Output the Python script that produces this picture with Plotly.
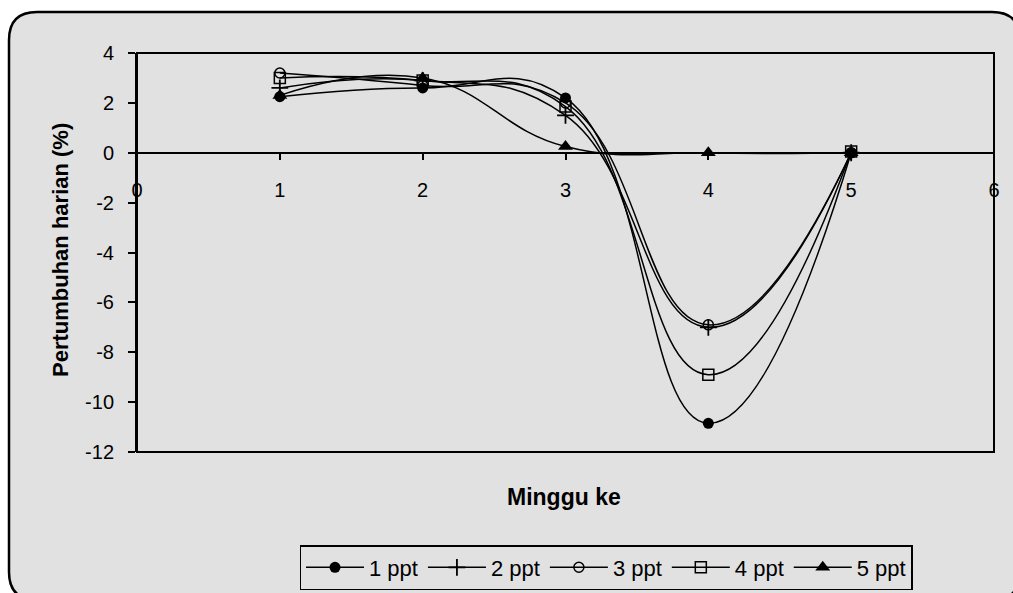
import plotly.graph_objects as go

# ---- data ----
weeks = [1, 2, 3, 4, 5]
series_names = ["1 ppt", "2 ppt", "3 ppt", "4 ppt", "5 ppt"]
ppt1 = [2.25, 2.6, 2.2, -10.85, 0.0]
ppt2 = [2.6, 2.9, 1.5, -7.0, 0.0]
ppt3 = [3.2, 2.7, 2.0, -6.9, 0.0]
ppt4 = [3.0, 2.9, 1.85, -8.9, 0.05]
ppt5 = [2.3, 3.0, 0.25, 0.0, 0.0]
y_tickvals = [4, 2, 0, -2, -4, -6, -8, -10, -12]
y_ticktext = ["4", "2", "0", "-2", "-4", "-6", "-8", "-10", "-12"]
x_tickvals = [0, 1, 2, 3, 4, 5, 6]
x_ticktext = ["0", "1", "2", "3", "4", "5", "6"]

# ---- geometry (pixels) ----
FW, FH = 1013, 593
L, R, T, B = 137, 994, 53, 452
W, H = R - L, B - T
GRAY = "#e1e1e1"
FONT = "Liberation Sans, Arial, sans-serif"


def px(X):
    return (X - L) / W


def py(Y):
    return (B - Y) / H


fig = go.Figure()

styles = [
    dict(symbol="circle", size=11, color="black", line=dict(width=0)),
    dict(symbol="cross-thin", size=12, color="black", line=dict(width=1.8, color="black")),
    dict(symbol="circle-open", size=10, color="black", line=dict(width=1.5, color="black")),
    dict(symbol="square-open", size=11, color="black", line=dict(width=1.5, color="black")),
    dict(symbol="triangle-up", size=13, color="black", line=dict(width=0)),
]
for name, ys, mk in zip(series_names, [ppt1, ppt2, ppt3, ppt4, ppt5], styles):
    fig.add_trace(go.Scatter(
        x=weeks, y=ys, name=name, mode="lines+markers",
        line=dict(color="black", width=1.5, shape="spline", smoothing=1.3),
        marker=mk,
    ))

# rounded background panel
X0, Y0, X1, Y1, rr = 9, 12, 1020, 600, 28
path = (
    f"M {px(X0)},{py(Y0 + rr)} "
    f"Q {px(X0)},{py(Y0)} {px(X0 + rr)},{py(Y0)} "
    f"L {px(X1 - rr)},{py(Y0)} "
    f"Q {px(X1)},{py(Y0)} {px(X1)},{py(Y0 + rr)} "
    f"L {px(X1)},{py(Y1 - rr)} "
    f"Q {px(X1)},{py(Y1)} {px(X1 - rr)},{py(Y1)} "
    f"L {px(X0 + rr)},{py(Y1)} "
    f"Q {px(X0)},{py(Y1)} {px(X0)},{py(Y1 - rr)} Z"
)
shapes = [
    dict(type="path", path=path, xref="paper", yref="paper", layer="below",
         fillcolor=GRAY, line=dict(color="black", width=2.5)),
    dict(type="rect", x0=0, x1=1, y0=0, y1=1, xref="paper", yref="paper",
         layer="below", line=dict(color="black", width=2)),
]

fig.update_layout(
    width=FW, height=FH,
    margin=dict(l=L, r=FW - R, t=T, b=FH - B, pad=0, autoexpand=False),
    paper_bgcolor="white",
    plot_bgcolor=GRAY,
    font=dict(family=FONT, size=20, color="black"),
    shapes=shapes,
    showlegend=True,
    legend=dict(
        orientation="h", x=px(606), y=py(545), xanchor="center", yanchor="top",
        bgcolor=GRAY, bordercolor="black", borderwidth=1.5,
        font=dict(size=22), itemwidth=58, tracegroupgap=0,
    ),
    annotations=[
        dict(text="<b>Minggu ke</b>", x=px(564), y=py(497), xref="paper", yref="paper",
             showarrow=False, font=dict(size=23), xanchor="center", yanchor="middle"),
        dict(text="<b>Pertumbuhan harian (%)</b>", x=px(60), y=py(250), xref="paper",
             yref="paper", showarrow=False, font=dict(size=22), textangle=-90,
             xanchor="center", yanchor="middle"),
    ],
)
fig.update_xaxes(
    range=[0, 6], tickvals=x_tickvals, ticktext=x_ticktext,
    anchor="free", position=0.75, showline=True, linecolor="black", linewidth=2,
    ticks="outside", ticklen=6, tickwidth=2, tickcolor="black",
    showgrid=False, zeroline=False, ticklabelstandoff=13,
)
fig.update_yaxes(
    range=[-12, 4], tickvals=y_tickvals, ticktext=y_ticktext,
    showline=True, linecolor="black", linewidth=2,
    ticks="outside", ticklen=7, tickwidth=2, tickcolor="black",
    showgrid=False, zeroline=False, ticklabelstandoff=10,
)

fig.write_html("out.html")
